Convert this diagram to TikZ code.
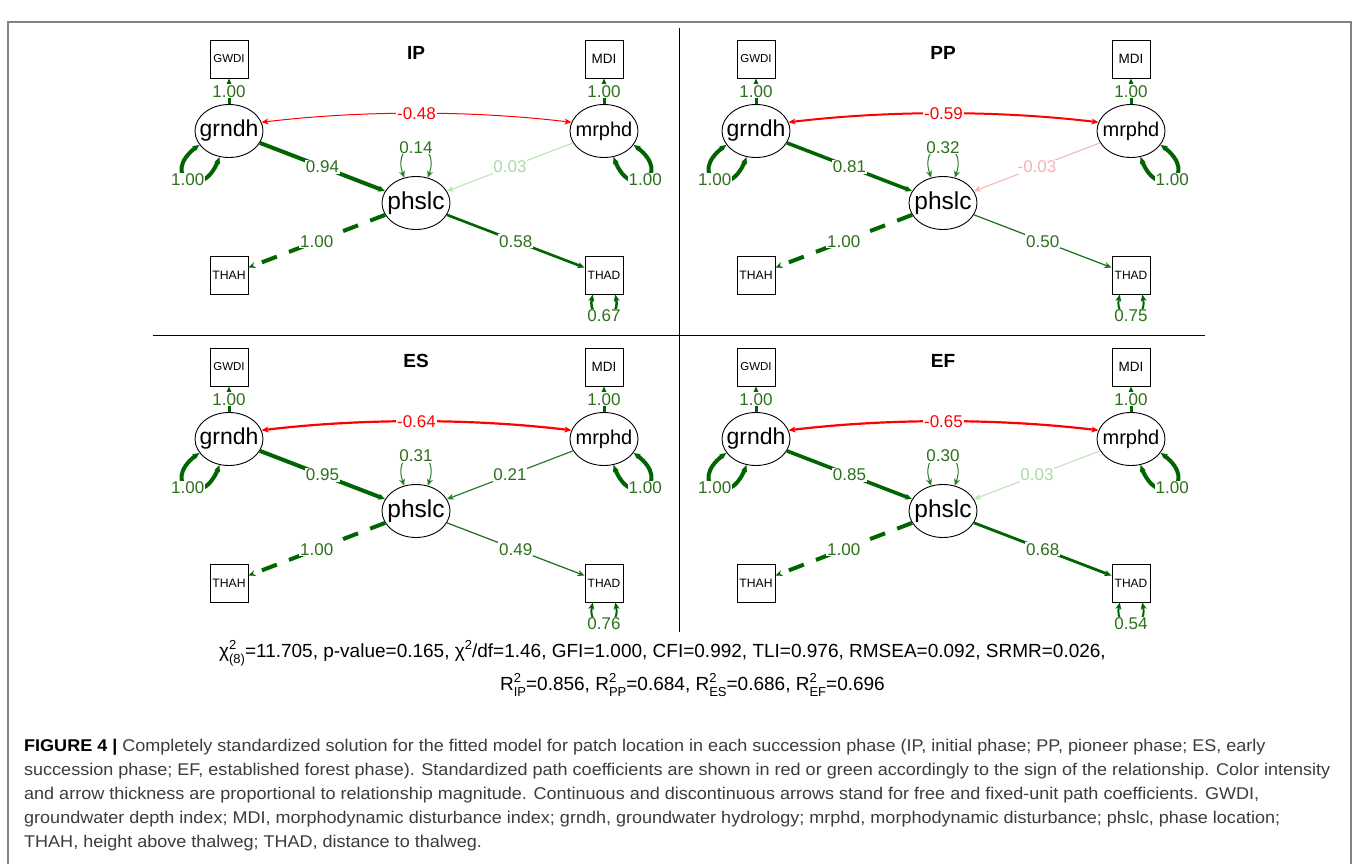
\documentclass[tikz,border=0pt]{standalone}
\usepackage{fontspec}
\setmainfont{Liberation Sans}
\newfontfamily\capfont[FakeStretch=1.06]{Liberation Sans}
\usetikzlibrary{shapes.geometric,arrows.meta}
\definecolor{dg}{RGB}{0,100,0}
\definecolor{lg}{RGB}{45,112,28}
\definecolor{midg}{RGB}{40,125,40}
\definecolor{thing}{RGB}{25,110,25}
\definecolor{pale}{RGB}{185,226,178}
\definecolor{palet}{RGB}{170,218,165}
\definecolor{pinkl}{RGB}{244,180,180}
\definecolor{capgray}{RGB}{60,60,60}
\definecolor{framegray}{RGB}{130,130,130}
\newcommand\SupSub[2]{\leavevmode\setbox0=\hbox{\fontsize{13}{13}\selectfont#1}\setbox2=\hbox{\fontsize{13}{13}\selectfont#2}\ifdim\wd0>\wd2 \dimen0=\wd0\else\dimen0=\wd2\fi\rlap{\raisebox{8pt}{\copy0}}\rlap{\raisebox{-6pt}{\copy2}}\hspace{\dimen0}}
\tikzset{
 lat/.style={ellipse,draw,line width=0.9pt,minimum width=68pt,minimum height=53pt,inner sep=0pt,fill=white},
 obs/.style={rectangle,draw,line width=0.9pt,minimum width=38pt,minimum height=38pt,inner sep=0pt,fill=white},
 lab/.style={fill=white,inner sep=0.8pt,text=lg,font=\fontsize{17}{17}\selectfont},
 ttl/.style={font=\bfseries\fontsize{19}{19}\selectfont},
 arr/.style={-{Stealth[length=7pt,width=6pt]}},
 darr/.style={{Stealth[length=7pt,width=6pt]}-{Stealth[length=7pt,width=6pt]}},
 capline/.style={anchor=base west,inner sep=0pt,text=capgray,font=\capfont\fontsize{17}{17}\selectfont},
 fitline/.style={anchor=base east,inner sep=0pt,font=\fontsize{19}{19}\selectfont},
}
\newcommand\drawpanel[3]{%
\begin{scope}[shift={(#2,#3)}]
 \node[ttl] (#1-title) at (416,53) {\Ptitle};
 \node[obs,font=\fontsize{11.5}{12}\selectfont] (#1-gwdi) at (229,59) {GWDI};
 \node[obs,font=\fontsize{13.5}{14}\selectfont] (#1-mdi) at (604,59) {MDI};
 \node[obs,font=\fontsize{12.2}{13}\selectfont] (#1-thah) at (229,275) {THAH};
 \node[obs,font=\fontsize{12}{13}\selectfont] (#1-thad) at (604,275) {THAD};
 \node[lat,font=\fontsize{23}{24}\selectfont] (#1-grndh) at (229,131) {\makebox[0pt]{grndh}};
 \node[lat,font=\fontsize{20}{21}\selectfont] (#1-mrphd) at (604,131) {\makebox[0pt]{mrphd}};
 \node[lat,font=\fontsize{24.5}{25}\selectfont] (#1-phslc) at (416,203) {\makebox[0pt]{phslc}};
 \draw[arr,color=dg,line width=3pt] (#1-grndh) -- node[lab]{1.00} (#1-gwdi);
 \draw[arr,color=dg,line width=3pt] (#1-mrphd) -- node[lab]{1.00} (#1-mdi);
 \draw[arr,color=dg,line width=4pt,dash pattern=on 16pt off 13pt] (#1-phslc) -- node[lab]{1.00} (#1-thah);
 \draw[arr,color=\Ptcol,line width=\Ptw] (#1-phslc) -- node[lab]{\Pt} (#1-thad);
 \draw[arr,color=dg,line width=\Pgw] (#1-grndh) -- node[lab]{\Pg} (#1-phslc);
 \draw[arr,color=\Pmcol,line width=\Pmw] (#1-mrphd) -- node[lab,text=\Pmtcol]{\Pm} (#1-phslc);
 \draw[darr,red,line width=\Pcovw] (#1-grndh.15) .. controls +(100,-12) and +(-100,-12) .. node[lab,text=red]{\Pcov} (#1-mrphd.165);
 \draw[darr,color=dg,line width=4pt] (#1-grndh.205) .. controls +(-40,30) and +(-18,46) .. node[lab]{1.00} (#1-grndh.250);
 \draw[darr,color=dg,line width=4pt] (#1-mrphd.335) .. controls +(40,30) and +(18,46) .. node[lab]{1.00} (#1-mrphd.290);
 \draw[darr,color=midg,line width=1pt] (#1-phslc.115) .. controls +(-14,-40) and +(14,-40) .. node[lab]{\Pv} (#1-phslc.65);
 \draw[darr,color=dg,line width=\Prw] (#1-thad.240) .. controls +(-6,28) and +(6,28) .. node[lab]{\Pr} (#1-thad.300);
\end{scope}}
\begin{document}
\begin{tikzpicture}[x=1pt,y=-1pt]
\useasboundingbox (0,0) rectangle (1358,864);
\fill[white] (0,0) rectangle (1358,864);
\draw[framegray,line width=1.6pt] (8,864) -- (8,22) -- (1351,22) -- (1351,864);
\draw[line width=0.9pt] (679,28) -- (679,632);
\draw[line width=0.9pt] (153,335) -- (1205,335);
% IP
\def\Ptitle{IP}\def\Pcov{-0.48}\def\Pcovw{1pt}
\def\Pg{0.94}\def\Pgw{4pt}
\def\Pm{0.03}\def\Pmw{1pt}\def\Pmcol{pale}\def\Pmtcol{palet}
\def\Pt{0.58}\def\Ptw{2.6pt}\def\Ptcol{dg}
\def\Pv{0.14}\def\Pr{0.67}\def\Prw{2.5pt}
\drawpanel{ip}{0}{0}
% PP
\def\Ptitle{PP}\def\Pcov{-0.59}\def\Pcovw{2pt}
\def\Pg{0.81}\def\Pgw{3.5pt}
\def\Pm{-0.03}\def\Pmw{1pt}\def\Pmcol{pinkl}\def\Pmtcol{pinkl}
\def\Pt{0.50}\def\Ptw{1.2pt}\def\Ptcol{thing}
\def\Pv{0.32}\def\Pr{0.75}\def\Prw{2pt}
\drawpanel{pp}{527}{0}
% ES
\def\Ptitle{ES}\def\Pcov{-0.64}\def\Pcovw{2.2pt}
\def\Pg{0.95}\def\Pgw{4pt}
\def\Pm{0.21}\def\Pmw{1.2pt}\def\Pmcol{midg}\def\Pmtcol{lg}
\def\Pt{0.49}\def\Ptw{1.2pt}\def\Ptcol{thing}
\def\Pv{0.31}\def\Pr{0.76}\def\Prw{2pt}
\drawpanel{es}{0}{308}
% EF
\def\Ptitle{EF}\def\Pcov{-0.65}\def\Pcovw{2.2pt}
\def\Pg{0.85}\def\Pgw{3.6pt}
\def\Pm{0.03}\def\Pmw{1pt}\def\Pmcol{pale}\def\Pmtcol{palet}
\def\Pt{0.68}\def\Ptw{2.8pt}\def\Ptcol{dg}
\def\Pv{0.30}\def\Pr{0.54}\def\Prw{2pt}
\drawpanel{ef}{527}{308}
% fit statistics
\node[fitline] (fit1) at (1106,657) {χ\SupSub{2}{(8)}=11.705, p-value=0.165, χ\SupSub{2}{}/df=1.46, GFI=1.000, CFI=0.992, TLI=0.976, RMSEA=0.092, SRMR=0.026,};
\node[fitline] (fit2) at (885,690) {R\SupSub{2}{IP}=0.856, R\SupSub{2}{PP}=0.684, R\SupSub{2}{ES}=0.686, R\SupSub{2}{EF}=0.696};
% caption
\node[capline] (cap1) at (24,751) {\textcolor{black}{\textbf{FIGURE 4 |}} Completely standardized solution for the fitted model for patch location in each succession phase (IP, initial phase; PP, pioneer phase; ES, early};
\node[capline] (cap2) at (24,775) {succession phase; EF, established forest phase). Standardized path coefficients are shown in red or green accordingly to the sign of the relationship. Color intensity};
\node[capline] (cap3) at (24,799) {and arrow thickness are proportional to relationship magnitude. Continuous and discontinuous arrows stand for free and fixed-unit path coefficients. GWDI,};
\node[capline] (cap4) at (24,823) {groundwater depth index; MDI, morphodynamic disturbance index; grndh, groundwater hydrology; mrphd, morphodynamic disturbance; phslc, phase location;};
\node[capline] (cap5) at (24,847) {THAH, height above thalweg; THAD, distance to thalweg.};
\end{tikzpicture}
\end{document}
